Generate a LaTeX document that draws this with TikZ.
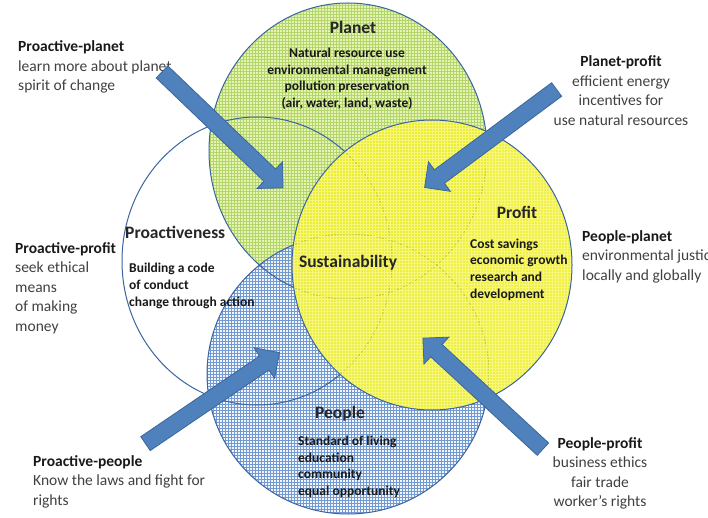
\documentclass[tikz,border=0pt]{standalone}
\usepackage{fontspec}
\setmainfont{Carlito}
\usetikzlibrary{shapes,shapes.arrows,patterns,calc}

\definecolor{ringblue}{HTML}{3B64A0}
\definecolor{planetbg}{HTML}{E6F3B4}
\definecolor{planetgrid}{HTML}{B2D66A}
\definecolor{profitbg}{HTML}{ECEC10}
\definecolor{profitgrid}{HTML}{F7F77E}
\definecolor{peoplebg}{HTML}{EEF3FB}
\definecolor{peoplegrid}{HTML}{7399D2}
\definecolor{arrowfill}{HTML}{4F81BD}
\definecolor{arrowline}{HTML}{3A669C}
\definecolor{labelgrey}{HTML}{404040}

\tikzstyle{ring} = [draw=ringblue, line width=1pt]
\tikzstyle{planetfill} = [fill=planetbg, postaction={pattern=grid, pattern color=planetgrid}]
\tikzstyle{peoplefill} = [fill=peoplebg, fill opacity=0.8, postaction={pattern=grid, pattern color=peoplegrid, fill opacity=0.8}]
\tikzstyle{profitfill} = [fill=profitbg, fill opacity=0.78, postaction={pattern=grid, pattern color=profitgrid, fill opacity=0.78}]
\tikzstyle{title} = [inner sep=0pt, text=black!85, font=\fontsize{17.5}{21}\selectfont\bfseries]
\tikzstyle{body} = [inner sep=0pt, text=black!90, font=\fontsize{13.5}{16.8}\selectfont\bfseries]
\tikzstyle{side} = [inner sep=0pt, text=labelgrey, font=\fontsize{15.5}{19.5}\selectfont]
\tikzstyle{bigarrow} = [single arrow, fill=arrowfill, draw=arrowline, line width=0.8pt,
  inner sep=0pt, text height=8pt, text depth=8pt, single arrow head extend=10pt,
  single arrow tip angle=90]

\newcommand{\sidehead}[1]{{\bfseries\color{black!90}#1}}
\newcommand{\blockarrow}[2]{%
  \path let \p1=($(#2)-(#1)$), \n1={veclen(\x1,\y1)}, \n2={atan2(\y1,\x1)} in
    node[bigarrow, minimum height=\n1, rotate=\n2] at ($(#1)!0.5!(#2)$) {};}

\begin{document}
\begin{tikzpicture}[x=1pt, y=-1pt]
    \useasboundingbox (0,0) rectangle (708,518);
    % First we fill the four circles
    \path[planetfill] (348,151) ellipse [x radius=139pt, y radius=148pt];
    \path[peoplefill] (348,374) ellipse [x radius=141pt, y radius=140pt];
    \foreach \cx/\cy/\rx/\ry in {257/261/135/144, 348/151/139/148, 348/374/141/140}
        \draw[ring] (\cx,\cy) ellipse [x radius=\rx pt, y radius=\ry pt];
    \path[profitfill] (432,265) ellipse [x radius=140pt, y radius=145pt];
    \draw[ring] (432,265) ellipse [x radius=140pt, y radius=145pt];

    % Titles and texts inside the circles (base = last line)
    \node[title, anchor=base] (planet) at (353,33.5) {Planet};
    \node[body, anchor=base, align=center] (planet text) at (347,107.7)
        {Natural resource use\\environmental management\\pollution preservation\\(air, water, land, waste)};
    \node[title, anchor=base west] (proactive) at (125,238.5) {Proactiveness};
    \node[body, anchor=base west, align=left] (proactive text) at (129,306.5)
        {Building a code\\of conduct\\change through action};
    \node[title, anchor=base] (sustain) at (348,267.5) {Sustainability};
    \node[title, anchor=base] (profit) at (517,218.5) {Profit};
    \node[body, anchor=base west, align=left] (profit text) at (470,298.5)
        {Cost savings\\economic growth\\research and\\ development};
    \node[title, anchor=base] (people) at (340,418.5) {People};
    \node[body, anchor=base west, align=left] (people text) at (298,495.7)
        {Standard of living\\education\\community\\equal opportunity};

    % Labels round the diagram
    \node[side, anchor=base west, align=left] (pro planet) at (18,91)
        {\sidehead{Proactive-planet}\\learn more about planet\\spirit of change};
    \node[side, anchor=base, align=center] (planet profit) at (621,125.5)
        {\sidehead{Planet-profit}\\efficient energy\\incentives for\\use natural resources};
    \node[side, anchor=base west, align=left] (pro profit) at (15,331)
        {\sidehead{Proactive-profit}\\seek ethical\\means\\of making\\money};
    \node[side, anchor=base west, align=left] (people planet) at (582,280)
        {\sidehead{People-planet}\\environmental justice\\locally and globally};
    \node[side, anchor=base west, align=left] (pro people) at (33,505)
        {\sidehead{Proactive-people}\\Know the laws and fight for\\rights};
    \node[side, anchor=base, align=center] (people profit) at (600,506.5)
        {\sidehead{People-profit}\\business ethics\\fair trade\\worker’s rights};

    % Arrows from the labels into the circles
    \coordinate (pp tail) at (159,69);   \coordinate (pp tip) at (280,185);
    \coordinate (plp tail) at (560,87);  \coordinate (plp tip) at (428,185);
    \coordinate (ppe tail) at (142,446); \coordinate (ppe tip) at (276,355);
    \coordinate (pep tail) at (546,452); \coordinate (pep tip) at (426,341);
    \foreach \source/\dest in {pp tail/pp tip, plp tail/plp tip, ppe tail/ppe tip, pep tail/pep tip}
        {\blockarrow{\source}{\dest}}
\end{tikzpicture}
\end{document}
